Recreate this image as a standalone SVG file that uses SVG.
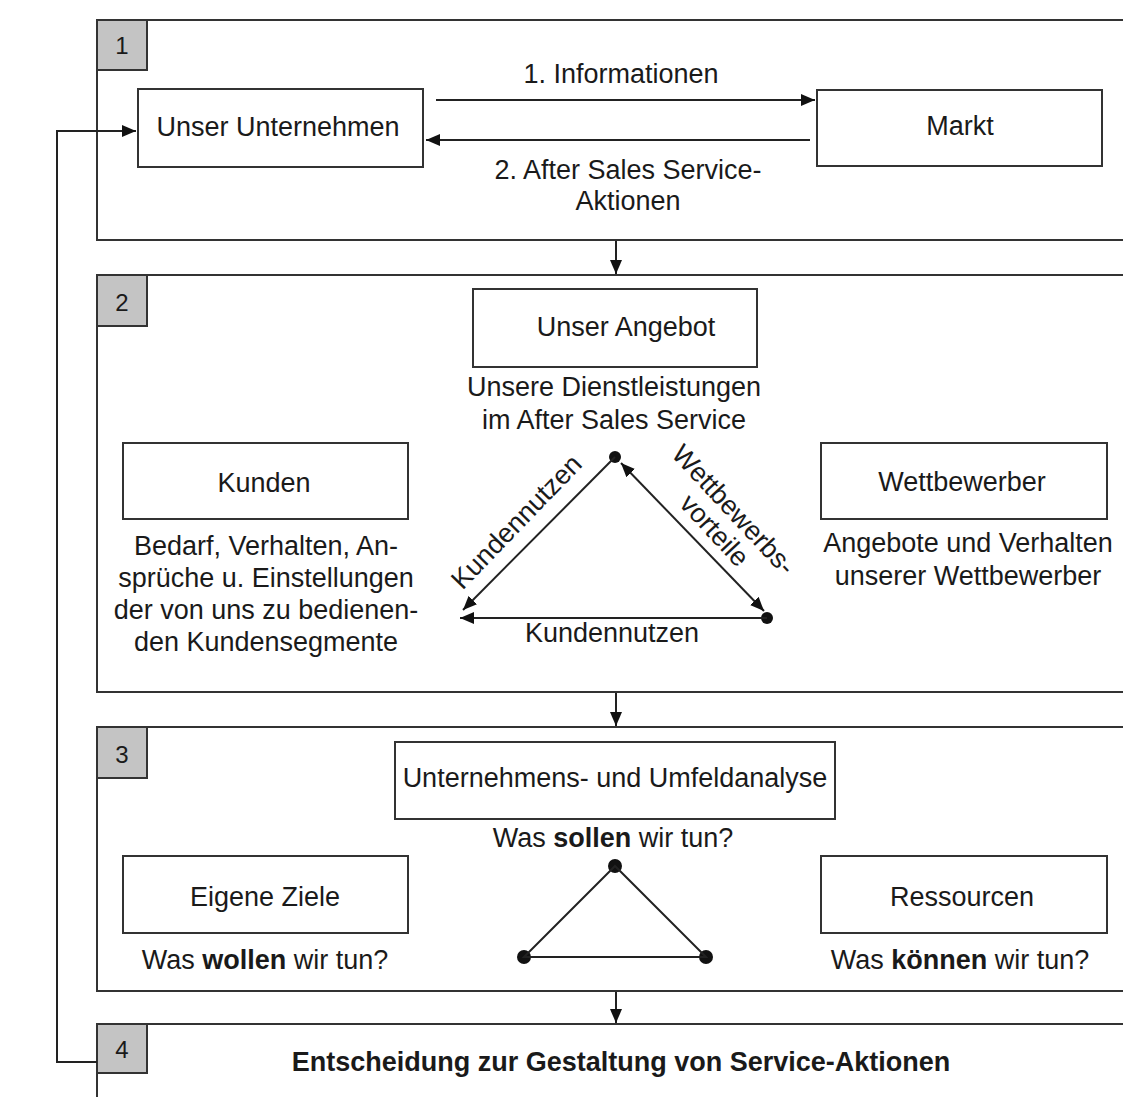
<svg xmlns="http://www.w3.org/2000/svg" width="1123" height="1097" viewBox="0 0 1123 1097">
<style>
.panel{fill:none;stroke:#333;stroke-width:2}
.badge{fill:#c4c4c4;stroke:#333;stroke-width:2}
.box{fill:#fff;stroke:#333;stroke-width:2}
.ln{fill:none;stroke:#222;stroke-width:2}
text{font-family:"Liberation Sans",Arial,sans-serif;font-size:27px;fill:#1a1a1a;text-anchor:middle}
.b{font-weight:bold}
.num{font-size:24px}
</style>
<defs>
<marker id="ah" viewBox="0 0 14 12" refX="14" refY="6" markerWidth="14" markerHeight="12" markerUnits="userSpaceOnUse" orient="auto-start-reverse">
<path d="M0,0 L14,6 L0,12 z" fill="#111"/>
</marker>
</defs>
<rect width="1123" height="1097" fill="#fff"/>

<g id="panel1">
<path class="panel" d="M1123,20 H97 V240 H1123"/>
<rect class="badge" x="97" y="20" width="50" height="50"/>
<text class="num" x="122" y="54">1</text>
</g>
<g id="panel2">
<path class="panel" d="M1123,275 H97 V692 H1123"/>
<rect class="badge" x="97" y="275" width="50" height="51"/>
<text class="num" x="122" y="311">2</text>
</g>
<g id="panel3">
<path class="panel" d="M1123,727 H97 V991 H1123"/>
<rect class="badge" x="97" y="727" width="50" height="51"/>
<text class="num" x="122" y="763">3</text>
</g>
<g id="panel4">
<path class="panel" d="M1123,1024 H97 V1097"/>
<rect class="badge" x="97" y="1024" width="50" height="49"/>
<text class="num" x="122" y="1058">4</text>
<text class="b" x="621" y="1071">Entscheidung zur Gestaltung von Service-Aktionen</text>
</g>

<g id="unternehmen">
<rect class="box" x="138" y="89" width="285" height="78"/>
<text x="278" y="136">Unser Unternehmen</text>
</g>
<g id="markt">
<rect class="box" x="817" y="90" width="285" height="76"/>
<text x="960" y="135">Markt</text>
</g>
<g id="angebot">
<rect class="box" x="473" y="289" width="284" height="78"/>
<text x="626" y="336">Unser Angebot</text>
<text x="614" y="396">Unsere Dienstleistungen</text>
<text x="614" y="429">im After Sales Service</text>
</g>
<g id="kunden">
<rect class="box" x="123" y="443" width="285" height="76"/>
<text x="264" y="492">Kunden</text>
<text x="266" y="555">Bedarf, Verhalten, An-</text>
<text x="266" y="587">sprüche u. Einstellungen</text>
<text x="266" y="619">der von uns zu bedienen-</text>
<text x="266" y="651">den Kundensegmente</text>
</g>
<g id="wettbewerber">
<rect class="box" x="821" y="443" width="286" height="76"/>
<text x="962" y="491">Wettbewerber</text>
<text x="968" y="552">Angebote und Verhalten</text>
<text x="968" y="585">unserer Wettbewerber</text>
</g>
<g id="analyse">
<rect class="box" x="395" y="742" width="440" height="77"/>
<text x="615" y="787">Unternehmens- und Umfeldanalyse</text>
<text x="613" y="847">Was <tspan class="b">sollen</tspan> wir tun?</text>
</g>
<g id="ziele">
<rect class="box" x="123" y="856" width="285" height="77"/>
<text x="265" y="906">Eigene Ziele</text>
<text x="265" y="969">Was <tspan class="b">wollen</tspan> wir tun?</text>
</g>
<g id="ressourcen">
<rect class="box" x="821" y="856" width="286" height="77"/>
<text x="962" y="906">Ressourcen</text>
<text x="960" y="969">Was <tspan class="b">können</tspan> wir tun?</text>
</g>

<g id="connectors">
<line class="ln" x1="436" y1="100" x2="815" y2="100" marker-end="url(#ah)"/>
<line class="ln" x1="810" y1="140" x2="426" y2="140" marker-end="url(#ah)"/>
<text x="621" y="83">1. Informationen</text>
<text x="628" y="179">2. After Sales Service-</text>
<text x="628" y="210">Aktionen</text>
<line class="ln" x1="616" y1="241" x2="616" y2="274" marker-end="url(#ah)"/>
<line class="ln" x1="616" y1="693" x2="616" y2="726" marker-end="url(#ah)"/>
<line class="ln" x1="616" y1="992" x2="616" y2="1023" marker-end="url(#ah)"/>
<path class="ln" d="M97,1062 H57 V131 H136" marker-end="url(#ah)"/>

<circle cx="615" cy="457" r="6" fill="#111"/>
<circle cx="767" cy="618" r="6" fill="#111"/>
<line class="ln" x1="615" y1="457" x2="463" y2="610" marker-end="url(#ah)"/>
<line class="ln" x1="621" y1="463" x2="764" y2="611" marker-start="url(#ah)" marker-end="url(#ah)"/>
<line class="ln" x1="767" y1="618" x2="460" y2="618" marker-end="url(#ah)"/>
<text transform="translate(523,528) rotate(-46)">Kundennutzen</text>
<text transform="translate(727,516) rotate(47)">Wettbewerbs-<tspan x="2" y="28">vorteile</tspan></text>
<text x="612" y="642">Kundennutzen</text>

<circle cx="615" cy="866" r="7" fill="#111"/>
<circle cx="524" cy="957" r="7" fill="#111"/>
<circle cx="706" cy="957" r="7" fill="#111"/>
<path class="ln" d="M615,866 L524,957 H706 Z"/>
</g>
</svg>
